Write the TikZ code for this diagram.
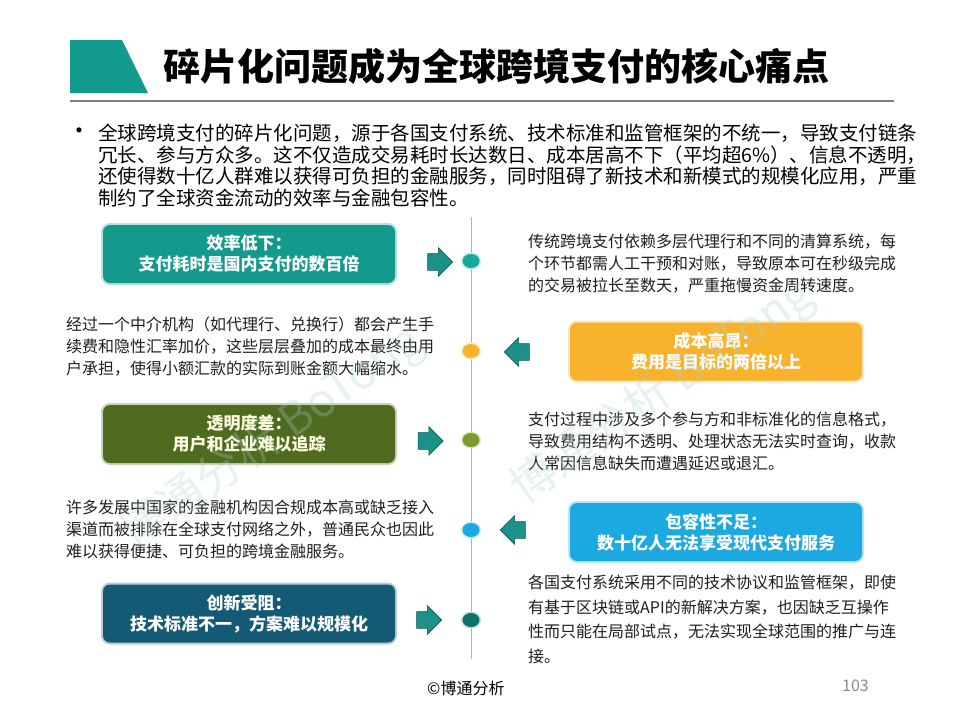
\documentclass[tikz,border=0pt]{standalone}
\usepackage{fontspec}
\setmainfont{Noto Sans CJK SC}
\usetikzlibrary{positioning,shapes.geometric,shapes.arrows}
\definecolor{cHead}{HTML}{139A8E}
\definecolor{cTeal}{HTML}{14998D}
\definecolor{cGold}{HTML}{F8B22C}
\definecolor{cOlive}{HTML}{4E6B1F}
\definecolor{cSky}{HTML}{1CA8E0}
\definecolor{cNavy}{HTML}{155A74}
\definecolor{cArr}{HTML}{1C918A}
\definecolor{cArrD}{HTML}{0E5A55}
\definecolor{cDotT}{HTML}{16AA9F}
\definecolor{cDotG}{HTML}{7C9B2B}
\definecolor{cDotN}{HTML}{0F726B}
\definecolor{cMark}{HTML}{A8D0D0}
\tikzset{
  ttl/.style={font=\fontsize{37}{40}\selectfont\bfseries,anchor=west,inner sep=0pt},
  intro/.style={font=\fontsize{19.5}{21.6}\selectfont,align=left,anchor=north west,inner sep=0pt},
  desc/.style={font=\fontsize{16}{22}\selectfont,align=left,anchor=north west,inner sep=0pt,text=black!88},
  card/.style={fill=#1,preaction={draw=#1!30,line width=4pt},rounded corners=7pt,
    minimum width=292pt,minimum height=58pt,align=center,text=white,
    font=\fontsize{17}{21}\selectfont\bfseries},
  dot/.style={ellipse,fill=#1,preaction={draw=#1!25,line width=3pt},
    minimum width=17pt,minimum height=14pt,inner sep=0pt},
  rarr/.style={single arrow,draw=cArrD,fill=cArr,line width=.6pt,inner xsep=0pt,inner ysep=8pt,
    minimum height=25pt,single arrow head extend=6pt},
  larr/.style={rarr,shape border rotate=180},
  wmark/.style={font=\fontsize{46}{46}\selectfont,text=cMark,opacity=.28,rotate=35},
  foot/.style={font=\fontsize{16}{18}\selectfont,anchor=west,inner sep=0pt},
}
\begin{document}
\begin{tikzpicture}[x=1pt,y=-1pt]
  \useasboundingbox[fill=white] (0,0) rectangle (960,720);
  % heading
  \fill[cHead] (70,40) -- (122,40) -- (148,93) -- (70,93) -- cycle;
  \node[ttl] (title) at (163,66) {碎片化问题成为全球跨境支付的核心痛点};
  \draw[black!50,line width=1.2pt] (70,101) -- (894,101);
  % summary
  \node[intro] (sum) at (98,124) {全球跨境支付的碎片化问题，源于各国支付系统、技术标准和监管框架的不统一，导致支付链条\\
    冗长、参与方众多。这不仅造成交易耗时长达数日、成本居高不下（平均超6\%）、信息不透明，\\
    还使得数十亿人群难以获得可负担的金融服务，同时阻碍了新技术和新模式的规模化应用，严重\\
    制约了全球资金流动的效率与金融包容性。};
  \node[font=\fontsize{24}{24}\selectfont,inner sep=0pt] (blt) at (79,134) {•};
  % timeline
  \coordinate (tTop) at (471,217);
  \coordinate (tBot) at (471,659);
  \draw[black!30,line width=.8pt] (tTop) -- (tBot);
  % cards
  \node[card=cTeal] (c1) at (249,254) {效率低下：\\支付耗时是国内支付的数百倍};
  \node[card=cGold] (c2) at (716,351.5) {成本高昂：\\费用是目标的两倍以上};
  \node[card=cOlive,text=white!88!yellow] (c3) at (249,434) {透明度差：\\用户和企业难以追踪};
  \node[card=cSky] (c4) at (716,532) {包容性不足：\\数十亿人无法享受现代支付服务};
  \node[card=cNavy] (c5) at (249,613.5) {创新受阻：\\技术标准不一，方案难以规模化};
  % dots
  \node[dot=cDotT] (d1) at (471,261) {};
  \node[dot=cGold] (d2) at (471,351) {};
  \node[dot=cDotG] (d3) at (471,440) {};
  \node[dot=cSky] (d4) at (471,530) {};
  \node[dot=cDotN] (d5) at (471,620) {};
  % arrows
  \node[rarr] (a1) at (436,262) {};
  \node[larr] (a2) at (521,352) {};
  \node[rarr] (a3) at (426.5,441) {};
  \node[larr] (a4) at (517,530) {};
  \node[rarr] (a5) at (425,620) {};
  % descriptions
  \node[desc] (t1) at (528,234) {传统跨境支付依赖多层代理行和不同的清算系统，每\\
    个环节都需人工干预和对账，导致原本可在秒级完成\\
    的交易被拉长至数天，严重拖慢资金周转速度。};
  \node[desc] (t2) at (66,317) {经过一个中介机构（如代理行、兑换行）都会产生手\\
    续费和隐性汇率加价，这些层层叠加的成本最终由用\\
    户承担，使得小额汇款的实际到账金额大幅缩水。};
  \node[desc] (t3) at (528,412) {支付过程中涉及多个参与方和非标准化的信息格式，\\
    导致费用结构不透明、处理状态无法实时查询，收款\\
    人常因信息缺失而遭遇延迟或退汇。};
  \node[desc] (t4) at (66,500) {许多发展中国家的金融机构因合规成本高或缺乏接入\\
    渠道而被排除在全球支付网络之外，普通民众也因此\\
    难以获得便捷、可负担的跨境金融服务。};
  \node[desc,font=\fontsize{16}{24.5}\selectfont] (t5) at (528,575) {各国支付系统采用不同的技术协议和监管框架，即使\\
    有基于区块链或API的新解决方案，也因缺乏互操作\\
    性而只能在局部试点，无法实现全球范围的推广与连\\
    接。};
  % footer
  \node[foot] (copy) at (427,688) {©博通分析};
  \node[foot,text=black!45] (page) at (842,686) {103};
  % watermark
  \node[wmark] (wm1) at (272,438) {博通分析 BoTong};
  \node[wmark] (wm2) at (662,392) {博通分析 BoTong};
\end{tikzpicture}
\end{document}
